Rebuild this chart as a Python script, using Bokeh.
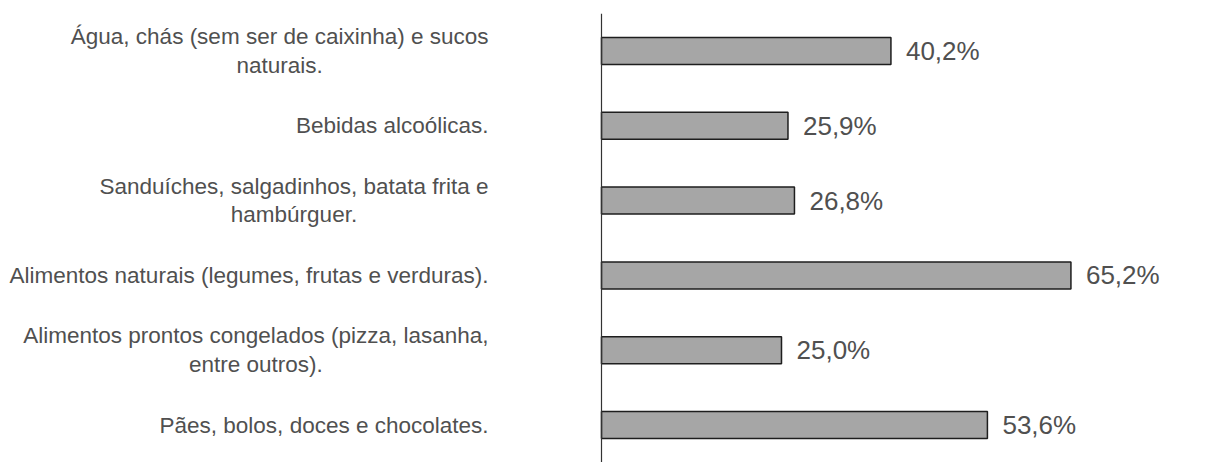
from bokeh.plotting import figure
from bokeh.models import ColumnDataSource, FactorRange, Range1d, Span
from bokeh.embed import file_html
from bokeh.resources import INLINE
from bokeh.core.properties import value

categories = [
    "Água, chás (sem ser de caixinha) e sucos\nnaturais.",
    "Bebidas alcoólicas.",
    "Sanduíches, salgadinhos, batata frita e\nhambúrguer.",
    "Alimentos naturais (legumes, frutas e verduras).",
    "Alimentos prontos congelados (pizza, lasanha,\nentre outros).",
    "Pães, bolos, doces e chocolates.",
]
percent = [40.2, 25.9, 26.8, 65.2, 25.0, 53.6]
value_labels = ["40,2%", "25,9%", "26,8%", "65,2%", "25,0%", "53,6%"]

source = ColumnDataSource(dict(cat=categories, val=percent, lab=value_labels,
                               zero=[0] * len(categories)))

# layout: pixels per percentage point and axis position inside the frame
PX_PER_UNIT = 7.2
AXIS_PX = 601
FIG_W = 1190
RIGHT_PAD = 10
x_start = -AXIS_PX / PX_PER_UNIT
x_end = (FIG_W - RIGHT_PAD - AXIS_PX) / PX_PER_UNIT

p = figure(
    width=FIG_W, height=462,
    y_range=FactorRange(factors=list(reversed(categories)), range_padding=0),
    x_range=Range1d(x_start, x_end),
    output_backend="svg", toolbar_location=None,
    x_axis_location=None, y_axis_location=None,
    min_border_left=0, min_border_right=RIGHT_PAD, min_border_top=13, min_border_bottom=0,
)
p.outline_line_color = None
p.xgrid.visible = False
p.ygrid.visible = False

p.hbar(y="cat", right="val", left=0, height=0.36, source=source,
       fill_color="#a6a6a6", line_color="#1e1e1e", line_width=1.5)

p.add_layout(Span(location=0, dimension="height", line_color="#333333", line_width=1.2))

p.text(x="val", y="cat", text="lab", source=source, x_offset=15,
       text_baseline="middle", text_align="left",
       text_font=value("Liberation Sans"), text_font_size="26px",
       text_color="#505050")

p.text(x="zero", y="cat", text="cat", source=source, x_offset=-113,
       anchor="center_right", text_align="center", text_baseline="middle",
       text_line_height=1.15,
       text_font=value("Liberation Sans"), text_font_size="22.5px",
       text_color="#505050")

open("out.html", "w").write(file_html(p, INLINE))
